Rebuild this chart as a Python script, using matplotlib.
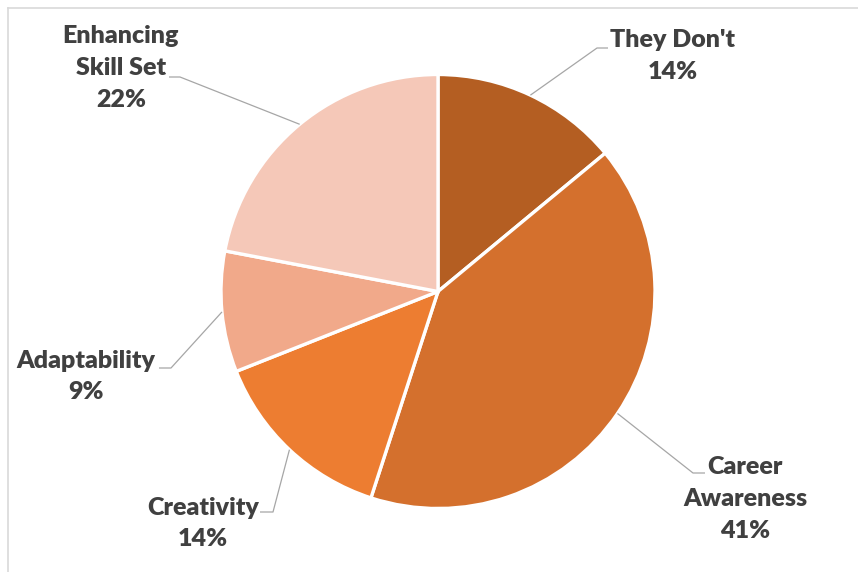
import numpy as np
import matplotlib.pyplot as plt
from matplotlib.lines import Line2D

# survey answers, clockwise from 12 o'clock
categories = ["They Don't", "Career\nAwareness", "Creativity", "Adaptability", "Enhancing\nSkill Set"]
shares = [14, 41, 14, 9, 22]
colors = ["#B45E22", "#D4702D", "#ED7D31", "#F1A98A", "#F5C8B8"]

W, H = 858, 572
fig = plt.figure(figsize=(W / 100, H / 100), dpi=100)
ax = fig.add_axes([0, 0, 1, 1])

cx, cy, r = 438, H - 291.5, 217
wedges, _ = ax.pie(shares, colors=colors, startangle=90, counterclock=False,
                   center=(cx, cy), radius=r, frame=True,
                   wedgeprops=dict(edgecolor="white", linewidth=2.4))
ax.set_xlim(0, W)
ax.set_ylim(0, H)
ax.set_aspect("equal")
ax.axis("off")

# label text centres and leader elbows (pixel coords, y from top)
label_xy = [(673, 56), (745, 499), (203, 523.5), (86, 376.5), (121, 68)]
elbows = [((608, 48), (597, 48)),
          ((705, 473), (693, 473)),
          ((260, 512), (273, 512)),
          ((159, 368), (171, 368)),
          ((169, 77), (180, 77))]

for w, name, val, (lx, ly), (e0, e1) in zip(wedges, categories, shares, label_xy, elbows):
    mid = np.deg2rad((w.theta1 + w.theta2) / 2)
    px, py = cx + r * np.cos(mid), cy + r * np.sin(mid)
    ax.plot([e0[0], e1[0], px], [H - e0[1], H - e1[1], py],
            color="#A6A6A6", lw=0.9, solid_capstyle="butt")
    ax.text(lx, H - ly, f"{name}\n{val}%", ha="center", va="center",
            fontsize=18, fontweight="heavy", family="Lato", color="#404040",
            linespacing=1.55)

# chart-area border
fig.add_artist(Line2D([7.5 / W, 7.5 / W], [0, 1 - 7.5 / H], transform=fig.transFigure,
                      color="#D9D9D9", lw=1.2))
fig.add_artist(Line2D([7.5 / W, 1], [1 - 7.5 / H, 1 - 7.5 / H], transform=fig.transFigure,
                      color="#D9D9D9", lw=1.2))

fig.savefig("out.png", dpi=100, facecolor="white")
